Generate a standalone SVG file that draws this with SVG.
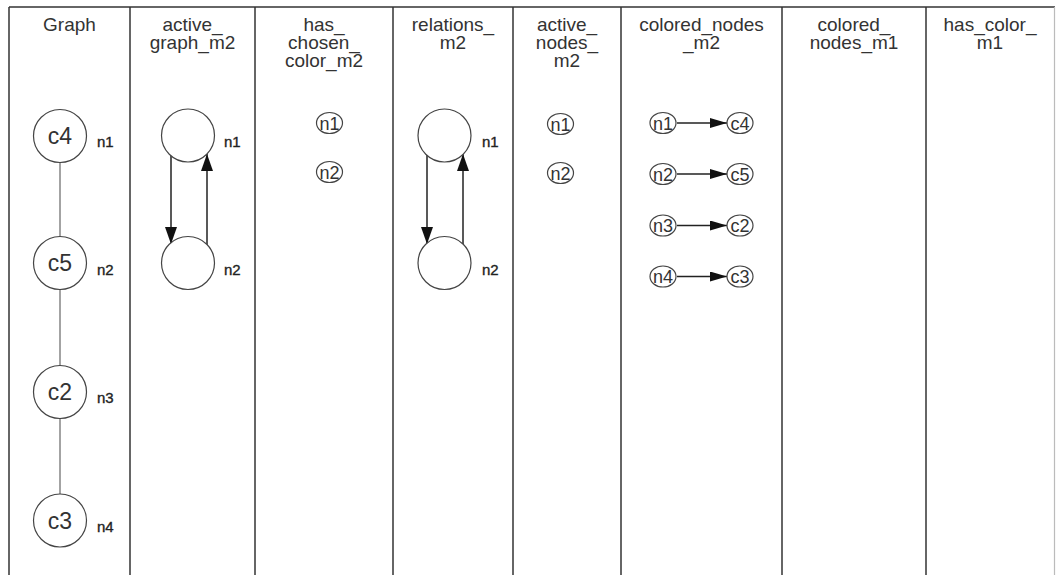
<svg xmlns="http://www.w3.org/2000/svg" width="1056" height="575" viewBox="0 0 1056 575">
<style>
.hdr{font-family:"Liberation Sans",Arial,sans-serif;font-size:19px;fill:#333;text-anchor:middle}
.div{stroke:#333;stroke-width:1.5;fill:none}
.big{fill:#fff;stroke:#444;stroke-width:1.2}
.ctext{font-family:"Liberation Sans",Arial,sans-serif;font-size:23px;fill:#333;text-anchor:middle}
.lbl{font-family:"Liberation Sans",Arial,sans-serif;font-size:15px;fill:#222;stroke:#222;stroke-width:0.35}
.sm{fill:#fff;stroke:#444;stroke-width:1.2}
.stext{font-family:"Liberation Sans",Arial,sans-serif;font-size:18px;fill:#333;text-anchor:middle}
.edge{stroke:#666;stroke-width:1.2;fill:none}
.arr{stroke:#222;stroke-width:1.5;fill:none}
</style>
<defs>
<marker id="ah" markerUnits="userSpaceOnUse" markerWidth="17" markerHeight="12" refX="17" refY="6" orient="auto"><path d="M0,0 L17,6 L0,12 z" fill="#111"/></marker>
<marker id="ahs" markerUnits="userSpaceOnUse" markerWidth="17" markerHeight="10" refX="17" refY="5" orient="auto"><path d="M0,0 L17,5 L0,10 z" fill="#111"/></marker>
</defs>
<rect width="1056" height="575" fill="#fff"/>
<g id="frame">
<line x1="9" y1="7" x2="1055" y2="7" class="div"/>
<line x1="9" y1="7" x2="9" y2="575" class="div"/>
<line x1="130" y1="7" x2="130" y2="575" class="div"/>
<line x1="255" y1="7" x2="255" y2="575" class="div"/>
<line x1="393" y1="7" x2="393" y2="575" class="div"/>
<line x1="513" y1="7" x2="513" y2="575" class="div"/>
<line x1="621" y1="7" x2="621" y2="575" class="div"/>
<line x1="782" y1="7" x2="782" y2="575" class="div"/>
<line x1="926" y1="7" x2="926" y2="575" class="div"/>
<line x1="1054.5" y1="7" x2="1054.5" y2="575" stroke="#bbb" stroke-width="1.2"/>
</g>
<g id="headers">
<text class="hdr" x="69.5" y="31">Graph</text>
<text class="hdr" x="192.5" y="31">active_</text>
<text class="hdr" x="192.5" y="49">graph_m2</text>
<text class="hdr" x="324" y="31">has_</text>
<text class="hdr" x="324" y="49">chosen_</text>
<text class="hdr" x="324" y="67">color_m2</text>
<text class="hdr" x="453" y="31">relations_</text>
<text class="hdr" x="453" y="49">m2</text>
<text class="hdr" x="567" y="31">active_</text>
<text class="hdr" x="567" y="49">nodes_</text>
<text class="hdr" x="567" y="67">m2</text>
<text class="hdr" x="701.5" y="31">colored_nodes</text>
<text class="hdr" x="701.5" y="49">_m2</text>
<text class="hdr" x="854" y="31">colored_</text>
<text class="hdr" x="854" y="49">nodes_m1</text>
<text class="hdr" x="990" y="31">has_color_</text>
<text class="hdr" x="990" y="49">m1</text>
</g>
<g id="connectors">
<line class="edge" x1="60" y1="162.5" x2="60" y2="236.5"/>
<line class="edge" x1="60" y1="289.5" x2="60" y2="365.5"/>
<line class="edge" x1="60" y1="418.5" x2="60" y2="494"/>
<line class="arr" x1="171" y1="155" x2="171" y2="244" marker-end="url(#ah)"/>
<line class="arr" x1="207" y1="245" x2="207" y2="154" marker-end="url(#ah)"/>
<line class="arr" x1="427" y1="155" x2="427" y2="244" marker-end="url(#ah)"/>
<line class="arr" x1="463" y1="245" x2="463" y2="154" marker-end="url(#ah)"/>
<line class="arr" x1="677" y1="123" x2="727" y2="123" marker-end="url(#ahs)"/>
<line class="arr" x1="677" y1="174" x2="727" y2="174" marker-end="url(#ahs)"/>
<line class="arr" x1="677" y1="225.5" x2="727" y2="225.5" marker-end="url(#ahs)"/>
<line class="arr" x1="677" y1="276.5" x2="727" y2="276.5" marker-end="url(#ahs)"/>
</g>
<g id="g-n1"><circle class="big" cx="60" cy="136" r="26.5"/><text class="ctext" x="60" y="144">c4</text><text class="lbl" x="97" y="146.5">n1</text></g>
<g id="g-n2"><circle class="big" cx="60" cy="263" r="26.5"/><text class="ctext" x="60" y="271">c5</text><text class="lbl" x="97" y="274.5">n2</text></g>
<g id="g-n3"><circle class="big" cx="60" cy="392" r="26.5"/><text class="ctext" x="60" y="400">c2</text><text class="lbl" x="97" y="403">n3</text></g>
<g id="g-n4"><circle class="big" cx="60" cy="520.5" r="26.5"/><text class="ctext" x="60" y="528.5">c3</text><text class="lbl" x="97" y="532">n4</text></g>
<g id="ag-n1"><circle class="big" cx="188" cy="135.5" r="26.5"/><text class="lbl" x="224" y="147">n1</text></g>
<g id="ag-n2"><circle class="big" cx="188" cy="263" r="26.5"/><text class="lbl" x="224" y="275">n2</text></g>
<g id="hc-n1"><ellipse class="sm" cx="329.5" cy="123" rx="13" ry="10.5"/><text class="stext" x="329.5" y="129.5">n1</text></g>
<g id="hc-n2"><ellipse class="sm" cx="329.5" cy="172" rx="13" ry="10.5"/><text class="stext" x="329.5" y="178.5">n2</text></g>
<g id="rel-n1"><circle class="big" cx="444.5" cy="135.5" r="26.5"/><text class="lbl" x="482" y="147">n1</text></g>
<g id="rel-n2"><circle class="big" cx="444.5" cy="263" r="26.5"/><text class="lbl" x="482" y="275">n2</text></g>
<g id="an-n1"><ellipse class="sm" cx="560.5" cy="124" rx="13" ry="10.5"/><text class="stext" x="560.5" y="130.5">n1</text></g>
<g id="an-n2"><ellipse class="sm" cx="560.5" cy="173" rx="13" ry="10.5"/><text class="stext" x="560.5" y="179.5">n2</text></g>
<g id="cn-n1"><ellipse class="sm" cx="663" cy="123" rx="13" ry="10.5"/><text class="stext" x="663" y="129.5">n1</text></g>
<g id="cn-c4"><ellipse class="sm" cx="740" cy="123" rx="13" ry="10.5"/><text class="stext" x="740" y="129.5">c4</text></g>
<g id="cn-n2"><ellipse class="sm" cx="663" cy="174" rx="13" ry="10.5"/><text class="stext" x="663" y="180.5">n2</text></g>
<g id="cn-c5"><ellipse class="sm" cx="740" cy="174" rx="13" ry="10.5"/><text class="stext" x="740" y="180.5">c5</text></g>
<g id="cn-n3"><ellipse class="sm" cx="663" cy="225.5" rx="13" ry="10.5"/><text class="stext" x="663" y="232">n3</text></g>
<g id="cn-c2"><ellipse class="sm" cx="740" cy="225.5" rx="13" ry="10.5"/><text class="stext" x="740" y="232">c2</text></g>
<g id="cn-n4"><ellipse class="sm" cx="663" cy="276.5" rx="13" ry="10.5"/><text class="stext" x="663" y="283">n4</text></g>
<g id="cn-c3"><ellipse class="sm" cx="740" cy="276.5" rx="13" ry="10.5"/><text class="stext" x="740" y="283">c3</text></g>
</svg>
